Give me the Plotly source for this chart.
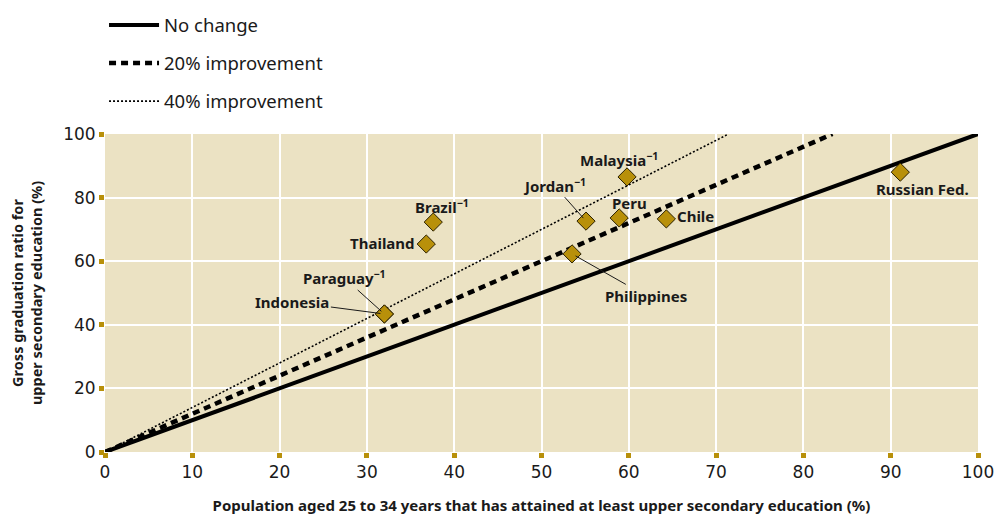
import plotly.graph_objects as go

countries = ["Russian Fed.", "Malaysia", "Jordan", "Peru", "Chile", "Philippines",
             "Brazil", "Thailand", "Indonesia", "Paraguay"]
attained = [91.1, 59.8, 55.1, 58.9, 64.3, 53.5, 37.6, 36.8, 32.0, 32.0]
grad_ratio = [88.0, 86.5, 72.6, 73.6, 73.3, 62.3, 72.3, 65.4, 43.4, 43.4]

line_x = [0, 100]
no_change = [0, 100]
imp20_x = [0, 100 / 1.2]
imp20_y = [0, 100]
imp40_x = [0, 100 / 1.4]
imp40_y = [0, 100]

xticks = [0, 10, 20, 30, 40, 50, 60, 70, 80, 90, 100]
yticks = [0, 20, 40, 60, 80, 100]

GOLD = "#B8900A"
BG = "#EBE2C3"
FONT = "Noto Sans"
TICKFONT = "DejaVu Sans"

fig = go.Figure()
fig.add_trace(go.Scatter(x=line_x, y=no_change, mode="lines", name="No change",
                         line=dict(color="black", width=4), legendgroup="a"))
fig.add_trace(go.Scatter(x=imp20_x, y=imp20_y, mode="lines", name="20% improvement",
                         line=dict(color="black", width=4.5, dash="7px,5px"), legendgroup="b"))
fig.add_trace(go.Scatter(x=imp40_x, y=imp40_y, mode="lines", name="40% improvement",
                         line=dict(color="black", width=1.6, dash="2px,2px"), legendgroup="c"))
fig.add_trace(go.Scatter(x=attained, y=grad_ratio, mode="markers", showlegend=False,
                         text=countries, hoverinfo="text",
                         marker=dict(symbol="diamond", size=14, color=GOLD,
                                     line=dict(color="#2a2000", width=1))))

lab_font = dict(family=FONT, size=15, color="#1a1a1a", weight="bold")

def idx(name):
    return countries.index(name)

# labels without leader lines: (country, text, xshift, yshift, xanchor)
plain = [
    ("Malaysia", "Malaysia<sup>−1</sup>", -8, 17, "center"),
    ("Peru", "Peru", 10, 15, "center"),
    ("Chile", "Chile", 9, 3, "left"),
    ("Brazil", "Brazil<sup>−1</sup>", 9, 16, "center"),
    ("Thailand", "Thailand", -9, 1, "right"),
    ("Russian Fed.", "Russian Fed.", 22, -17, "center"),
]
for c, t, xs, ys, xa in plain:
    i = idx(c)
    fig.add_annotation(x=attained[i], y=grad_ratio[i], text=t, showarrow=False,
                       xshift=xs, yshift=ys, xanchor=xa, font=lab_font)

# labels with leader lines: (country, text, ax, ay)
leaders = [
    ("Indonesia", "Indonesia", -92, -12),
    ("Paraguay", "Paraguay<sup>−1</sup>", -40, -36),
    ("Jordan", "Jordan<sup>−1</sup>", -32, -36),
    ("Philippines", "Philippines", 74, 42),
]
for c, t, ax, ay in leaders:
    i = idx(c)
    fig.add_annotation(x=attained[i], y=grad_ratio[i], text=t, showarrow=True,
                       arrowhead=0, arrowwidth=1, arrowcolor="#1a1a1a",
                       ax=ax, ay=ay, font=lab_font, standoff=4)

fig.update_layout(
    width=996, height=515,
    margin=dict(l=105, r=18, t=134, b=63, autoexpand=False),
    paper_bgcolor="white", plot_bgcolor=BG,
    font=dict(family=FONT, color="#1a1a1a"),
    showlegend=True,
    legend=dict(x=-0.0011, y=1.401, xanchor="left", yanchor="top",
                bgcolor="rgba(0,0,0,0)", font=dict(family=FONT, size=18.5, color="#1a1a1a"),
                tracegroupgap=11, itemwidth=50),
    xaxis=dict(range=[0, 100], tickvals=xticks, showgrid=True, gridcolor="white",
               gridwidth=2, zeroline=False, showline=False, automargin=False,
               ticks="outside", ticklen=5, tickwidth=5, tickcolor=GOLD,
               tickfont=dict(family=TICKFONT, size=17, color="#1a1a1a"),
               title=dict(text="<b>Population aged 25 to 34 years that has attained at least upper secondary education (%)</b>",
                          font=dict(family=FONT, size=15), standoff=20)),
    yaxis=dict(range=[0, 100], tickvals=yticks, showgrid=True, gridcolor="white",
               gridwidth=2, zeroline=False, showline=False, automargin=False,
               ticks="outside", ticklen=5, tickwidth=5, tickcolor=GOLD,
               tickfont=dict(family=TICKFONT, size=17, color="#1a1a1a"),
               title=dict(text="<b>Gross graduation ratio for<br>upper secondary education (%)</b>",
                          font=dict(family=FONT, size=14.5), standoff=17)),
)

fig.write_html("out.html", config={"displayModeBar": False},
               post_script="document.body.style.margin='0';document.body.style.overflow='hidden';")
